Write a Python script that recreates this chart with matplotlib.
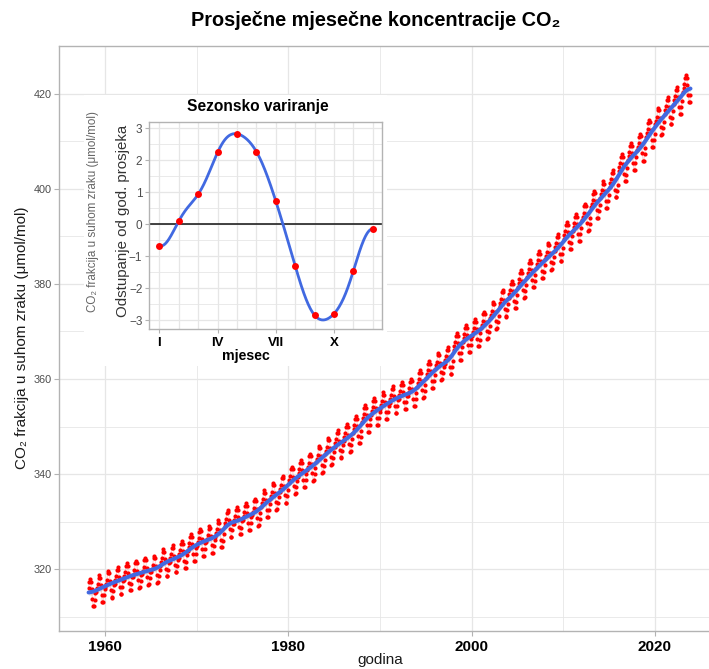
import numpy as np
import matplotlib
matplotlib.use("Agg")
import matplotlib.pyplot as plt
from matplotlib.patches import Rectangle

FONT = ['Liberation Sans', 'DejaVu Sans']
plt.rcParams['font.family'] = FONT

# ---------------- data ----------------
years = list(range(1958, 2024))
annual_mean = [315.10, 315.98, 316.91, 317.64, 318.45, 318.99, 319.62, 320.04, 321.37, 322.18,
               323.05, 324.62, 325.68, 326.32, 327.46, 329.68, 330.19, 331.13, 332.03, 333.84,
               335.41, 336.84, 338.76, 340.12, 341.48, 343.15, 344.87, 346.35, 347.61, 349.31,
               351.69, 353.20, 354.45, 355.70, 356.54, 357.21, 358.96, 360.97, 362.74, 363.88,
               366.84, 368.54, 369.71, 371.32, 373.45, 375.98, 377.70, 379.98, 382.09, 384.02,
               385.83, 387.64, 390.10, 391.85, 394.06, 396.74, 398.81, 401.01, 404.41, 406.76,
               408.72, 411.65, 414.21, 416.41, 418.53, 421.08]
first_month = 3    # record starts March 1958
last_month = 11    # record ends November 2023

months = list(range(1, 13))
month_labels = ['I', '', '', 'IV', '', '', 'VII', '', '', 'X', '', '']
seasonal_dev = [-0.68, 0.10, 0.94, 2.25, 2.83, 2.27, 0.72, -1.31, -2.85, -2.80, -1.45, -0.14]

xticks_main = [1960, 1980, 2000, 2020]
yticks_main = [320, 340, 360, 380, 400, 420]

# monthly record = annual mean + monthly deviation from annual mean
mx, my = [], []
for yr, am in zip(years, annual_mean):
    for m, dev in zip(months, seasonal_dev):
        if yr == years[0] and m < first_month:
            continue
        if yr == years[-1] and m > last_month:
            continue
        mx.append(yr + (m - 0.5) / 12.0)
        my.append(am + dev)
mx = np.array(mx)
my = np.array(my)

# smoothed trend for the blue line
trend = np.interp(mx, np.array(years) + 0.5, annual_mean)
k = 13
pad = np.pad(trend, k // 2, mode='edge')
trend = np.convolve(pad, np.ones(k) / k, mode='valid')

# ---------------- figure ----------------
W, H = 709, 669
fig = plt.figure(figsize=(W / 100, H / 100), dpi=100)
fig.patch.set_facecolor('white')

def fx(px):
    return px / W

def fy(py):
    return 1 - py / H

GRID = '#E6E6E6'
BORDER = '#B3B3B3'
TICKLAB = '#4D4D4D'

ax = fig.add_axes([fx(59), fy(631), fx(715) - fx(59), fy(46) - fy(631)])
ax.set_zorder(0)
ax.set_xlim(1954.98, 2026.55)
ax.set_ylim(307.03, 429.41)
ax.set_xticks(xticks_main)
ax.set_xticks([1970, 1990, 2010], minor=True)
ax.set_yticks(yticks_main)
ax.set_yticks([310, 330, 350, 370, 390, 410, 430], minor=True)
ax.grid(True, which='major', color=GRID, lw=0.9)
ax.grid(True, which='minor', color=GRID, lw=0.6)
ax.set_axisbelow(True)
for s in ax.spines.values():
    s.set_color(BORDER)
    s.set_linewidth(1.0)
ax.tick_params(axis='both', which='major', color=BORDER, length=3.5, width=0.8)
ax.tick_params(axis='both', which='minor', length=0)
ax.tick_params(axis='y', labelsize=7.8, labelcolor=TICKLAB, pad=2)
ax.tick_params(axis='x', labelsize=11, labelcolor='black', pad=3)
for t in ax.get_xticklabels():
    t.set_fontweight('bold')

ax.fill_between(mx, trend - 0.6, trend + 0.6, color='#999999', alpha=0.25, lw=0, zorder=2)
ax.plot(mx, my, color='red', alpha=0.18, lw=0.8, zorder=3)
ax.plot(mx, my, 'o', color='red', ms=3.0, mew=0, zorder=4)
ax.plot(mx, trend, color='#4169E1', lw=2.9, zorder=5, solid_capstyle='round')

fig.text(fx(22), fy(338), 'CO\u2082 frakcija u suhom zraku (\u03bcmol/mol)', rotation=90,
         ha='center', va='center', fontsize=11, color='#1A1A1A')
fig.text(fx(380), fy(660), 'godina', ha='center', va='center', fontsize=11, color='#1A1A1A')
fig.text(fx(376), fy(21), 'Prosje\u010dne mjese\u010dne koncentracije CO\u2082', ha='center',
         va='center', fontsize=14.3, fontweight='bold', color='black')

# white background of inset
bg = Rectangle((fx(84), fy(366)), fx(387) - fx(84), fy(95) - fy(366), transform=fig.transFigure,
               facecolor='white', edgecolor='none', zorder=1)
fig.add_artist(bg)

fig.text(fx(93), fy(212), 'CO\u2082 frakcija u suhom zraku (\u03bcmol/mol)', rotation=90,
         ha='center', va='center', fontsize=8.4, color='#666666', zorder=3)

# ---------------- inset ----------------
ia = fig.add_axes([fx(149.3), fy(328.7), fx(382) - fx(149.3), fy(122) - fy(328.7)])
ia.set_zorder(2)
ia.set_facecolor('white')
ia.set_xlim(0.48, 12.47)
ia.set_ylim(-3.27, 3.2)
ia.set_xticks(months)
ia.set_xticklabels(month_labels)
ia.set_yticks([-3, -2, -1, 0, 1, 2, 3])
ia.set_yticks([-2.5, -1.5, -0.5, 0.5, 1.5, 2.5], minor=True)
ia.grid(True, which='major', color=GRID, lw=0.9)
ia.grid(True, which='minor', axis='y', color=GRID, lw=0.6)
ia.set_axisbelow(True)
for s in ia.spines.values():
    s.set_color(BORDER)
    s.set_linewidth(1.0)
for t, lab in zip(ia.xaxis.get_major_ticks(), month_labels):
    if lab == '':
        t.tick1line.set_visible(False)
ia.tick_params(axis='both', which='major', color=BORDER, length=3, width=0.8)
ia.tick_params(axis='both', which='minor', length=0)
ia.tick_params(axis='y', labelsize=8.5, labelcolor=TICKLAB, pad=2)
ia.tick_params(axis='x', labelsize=9.5, labelcolor='black', pad=3)
for t in ia.get_xticklabels():
    t.set_fontweight('bold')

ia.axhline(0, color='#222222', lw=1.2, zorder=2)

# smooth periodic curve through the 12 monthly deviations
v = np.array(seasonal_dev)
N = len(v)
c = np.fft.rfft(v) / N
tt = np.linspace(1, 12, 400)
ph = 2 * np.pi * (tt - 1) / N
curve = np.full_like(tt, c[0].real)
for kk in range(1, N // 2 + 1):
    w = 1.0 if kk == N // 2 else 2.0
    curve += w * (c[kk].real * np.cos(kk * ph) - c[kk].imag * np.sin(kk * ph))
ia.plot(tt, curve, color='#4169E1', lw=2.0, zorder=3)
ia.plot(months, seasonal_dev, 'o', color='red', ms=5, mew=0, zorder=4)

fig.text(fx(258), fy(106), 'Sezonsko variranje', ha='center', va='center', fontsize=11.2,
         fontweight='bold', color='black', zorder=3)
fig.text(fx(246), fy(356), 'mjesec', ha='center', va='center', fontsize=10.2,
         fontweight='bold', color='black', zorder=3)
fig.text(fx(123), fy(221), 'Odstupanje od god. prosjeka', rotation=90, ha='center', va='center',
         fontsize=10.8, color='#333333', zorder=3)

fig.savefig('out.png', dpi=100)
